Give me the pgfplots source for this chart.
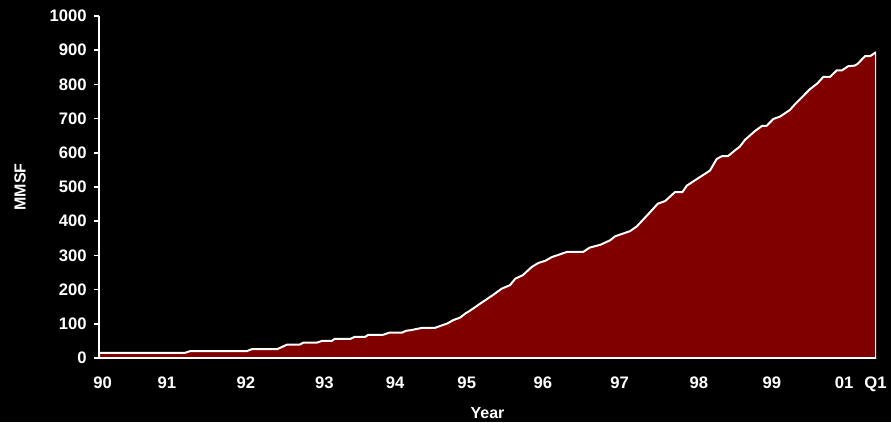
\documentclass[border=0pt]{standalone}
\usepackage{fontspec}
\setmainfont{Liberation Sans}
\usepackage{pgfplots}
\pgfplotsset{compat=1.18}
\definecolor{areared}{RGB}{128,0,0}
\begin{document}
\begin{tikzpicture}
\fill[black] (0,0) rectangle (668.25pt,-316.5pt);
\useasboundingbox (0,0) rectangle (668.25pt,-316.5pt);
\begin{axis}[
  at={(74.25pt,-268.5pt)}, anchor=south west,
  scale only axis, width=582.75pt, height=256.5pt,
  xmin=1990, xmax=2000.416, ymin=0, ymax=1000,
  axis y line*=left, axis x line*=bottom,
  axis line style={white, line width=1.5pt},
  every outer x axis line/.append style={draw=none},
  every outer y axis line/.append style={-},
  xtick={1990.05,1990.91,1991.97,1993.02,1993.97,1994.93,1995.95,1996.98,1998.04,1999.02,1999.99,2000.41},
  xticklabels={90,91,92,93,94,95,96,97,98,99,01,Q1},
  ytick={0,100,...,1000},
  tick align=outside,
  major tick length=3.75pt,
  xtick style={draw=none},
  ytick style={white, line width=1.2pt},
  /pgf/number format/assume math mode=true,
  /pgf/number format/1000 sep={},
  ticklabel style={font=\fontsize{12.5}{14}\selectfont\bfseries, text=white},
  xticklabel style={yshift=-7pt},
  yticklabel style={xshift=-2pt},
  xlabel={Year}, ylabel={MMSF},
  label style={font=\fontsize{12}{14}\selectfont\bfseries, text=white},
  xlabel style={yshift=-5pt},
  ylabel style={yshift=11pt},
]
\addplot[draw=white, line width=1.5pt, fill=areared, line join=round] coordinates {
(1990.00,15) (1991.15,15) (1991.22,20) (1991.98,20) (1992.05,26) (1992.39,26)
(1992.52,39) (1992.69,39) (1992.74,45) (1992.92,45) (1992.99,50) (1993.12,50)
(1993.16,56) (1993.37,56) (1993.43,62) (1993.57,62) (1993.61,68) (1993.81,68)
(1993.89,74) (1994.06,74) (1994.12,80) (1994.17,81) (1994.33,88) (1994.50,88)
(1994.67,101) (1994.75,111) (1994.84,118) (1994.91,130) (1994.97,138) (1995.11,159)
(1995.28,184) (1995.40,203) (1995.51,213) (1995.58,232) (1995.68,242) (1995.80,266)
(1995.89,278) (1995.98,284) (1996.07,295) (1996.27,310) (1996.49,310) (1996.58,323)
(1996.72,331) (1996.85,344) (1996.92,356) (1997.12,371) (1997.21,385) (1997.39,427)
(1997.49,451) (1997.59,459) (1997.72,485) (1997.82,485) (1997.88,504) (1998.02,524)
(1998.19,548) (1998.28,582) (1998.35,590) (1998.43,590) (1998.53,608) (1998.59,618)
(1998.66,638) (1998.79,663) (1998.89,679) (1998.95,679) (1999.04,699) (1999.13,706)
(1999.26,725) (1999.33,742) (1999.53,786) (1999.63,803) (1999.71,822) (1999.80,822)
(1999.89,841) (1999.96,841) (2000.04,853) (2000.13,855) (2000.17,860) (2000.27,883)
(2000.34,883) (2000.416,894)
} \closedcycle;
\end{axis}
\end{tikzpicture}
\end{document}
